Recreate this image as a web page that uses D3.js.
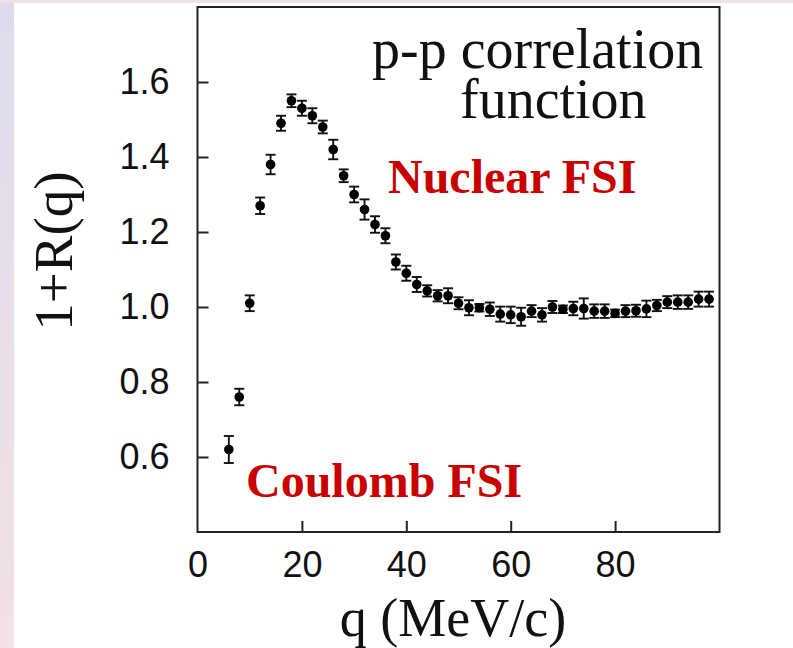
<!DOCTYPE html>
<html>
<head>
<meta charset="utf-8">
<title>p-p correlation function</title>
<script src="https://d3js.org/d3.v7.min.js"></script>
<style>
  * { margin: 0; padding: 0; }
  body { background: #fff; width: 793px; height: 648px; overflow: hidden; }
</style>
</head>
<body>
<div id="chart"></div>
<script>
// data
const qValues = [6, 8, 10, 12, 14, 16, 18, 20, 22, 24, 26, 28, 30, 32, 34, 36,
  38, 40, 42, 44, 46, 48, 50, 52, 54, 56, 58, 60, 62, 64, 66, 68,
  70, 72, 74, 76, 78, 80, 82, 84, 86, 88, 90, 92, 94, 96, 98];
const corrValues = [0.62, 0.76, 1.01, 1.27, 1.38, 1.49, 1.55, 1.53, 1.51, 1.48, 1.42, 1.35, 1.30, 1.26, 1.22, 1.19,
  1.12, 1.09, 1.06, 1.043, 1.03, 1.03, 1.01, 0.998, 0.998, 0.994, 0.981, 0.979, 0.974, 0.989, 0.979, 1.0,
  0.994, 0.996, 0.996, 0.989, 0.989, 0.983, 0.989, 0.99, 0.995, 1.004, 1.013, 1.013, 1.013, 1.021, 1.021];
const corrErrors = [0.036, 0.022, 0.021, 0.022, 0.026, 0.02, 0.017, 0.02, 0.02, 0.017, 0.026, 0.017, 0.021, 0.027, 0.022, 0.02,
  0.02, 0.02, 0.02, 0.015, 0.015, 0.02, 0.016, 0.02, 0.01, 0.018, 0.02, 0.022, 0.024, 0.016, 0.018, 0.016,
  0.01, 0.018, 0.027, 0.018, 0.018, 0.01, 0.016, 0.016, 0.022, 0.015, 0.016, 0.018, 0.018, 0.02, 0.02];
const xTicks = [0, 20, 40, 60, 80];
const yTicks = [0.6, 0.8, 1.0, 1.2, 1.4, 1.6];

const W = 793, H = 648;
const sans = "'Liberation Sans', Arial, Helvetica, sans-serif";
const serif = "'Liberation Serif', 'Times New Roman', Times, serif";

const svg = d3.select("#chart").append("svg")
  .attr("width", W).attr("height", H);

// soft slide border on the left and top
const grad = svg.append("defs").append("linearGradient")
  .attr("id", "edge").attr("x1", 0).attr("y1", 0).attr("x2", 0).attr("y2", 1);
grad.append("stop").attr("offset", "0%").attr("stop-color", "#dedced");
grad.append("stop").attr("offset", "100%").attr("stop-color", "#f3e2e5");
svg.append("rect").attr("x", 0).attr("y", 0).attr("width", 14).attr("height", H).attr("fill", "url(#edge)");
svg.append("rect").attr("x", 0).attr("y", 0).attr("width", W).attr("height", 3).attr("fill", "#ece2ea");

const x = d3.scaleLinear().domain([0, 100]).range([197.5, 719.5]);
const y = d3.scaleLinear().domain([0.4, 1.8]).range([532, 7]);

// frame
svg.append("rect")
  .attr("x", x(0)).attr("y", y(1.8))
  .attr("width", x(100) - x(0)).attr("height", y(0.4) - y(1.8))
  .attr("fill", "none").attr("stroke", "#222").attr("stroke-width", 2);

// axes, ticks pointing in
const yAxis = svg.append("g")
  .attr("transform", `translate(${x(0)},0)`)
  .call(d3.axisLeft(y).tickValues(yTicks).tickFormat(d3.format(".1f"))
    .tickSizeInner(-11).tickSizeOuter(0).tickPadding(28));
const xAxis = svg.append("g")
  .attr("transform", `translate(0,${y(0.4)})`)
  .call(d3.axisBottom(x).tickValues(xTicks).tickFormat(d3.format("d"))
    .tickSizeInner(-11).tickSizeOuter(0).tickPadding(19));

[xAxis, yAxis].forEach(g => {
  g.select(".domain").remove();
  g.selectAll(".tick line").attr("stroke", "#222").attr("stroke-width", 2);
  g.selectAll(".tick text")
    .attr("fill", "#111")
    .style("font-family", sans)
    .style("font-size", "36px");
});
xAxis.selectAll(".tick line").filter(d => d === 0).remove();

// error bars
const pts = qValues.map((q, i) => ({ q, v: corrValues[i], e: corrErrors[i] }));
const capW = 5;
const bars = svg.append("g").attr("stroke", "#111").attr("stroke-width", 1.9);
bars.selectAll("line.stem").data(pts).join("line").attr("class", "stem")
  .attr("x1", d => x(d.q)).attr("x2", d => x(d.q))
  .attr("y1", d => y(d.v - d.e)).attr("y2", d => y(d.v + d.e));
bars.selectAll("line.top").data(pts).join("line").attr("class", "top")
  .attr("x1", d => x(d.q) - capW).attr("x2", d => x(d.q) + capW)
  .attr("y1", d => y(d.v + d.e)).attr("y2", d => y(d.v + d.e));
bars.selectAll("line.bot").data(pts).join("line").attr("class", "bot")
  .attr("x1", d => x(d.q) - capW).attr("x2", d => x(d.q) + capW)
  .attr("y1", d => y(d.v - d.e)).attr("y2", d => y(d.v - d.e));

// points
svg.append("g").selectAll("circle").data(pts).join("circle")
  .attr("cx", d => x(d.q)).attr("cy", d => y(d.v))
  .attr("r", 4.8).attr("fill", "#000");

// axis titles
svg.append("text")
  .attr("transform", "translate(72,251) rotate(-90)")
  .attr("text-anchor", "middle")
  .style("font-family", serif).style("font-size", "55px").attr("fill", "#111")
  .text("1+R(q)");
svg.append("text")
  .attr("x", 453).attr("y", 636)
  .attr("text-anchor", "middle")
  .style("font-family", serif).style("font-size", "54px").attr("fill", "#111")
  .text("q (MeV/c)");

// inset title, two lines in one text
const title = svg.append("text")
  .style("font-family", serif).style("font-size", "56px").attr("fill", "#111");
title.append("tspan").attr("x", 372).attr("y", 68).text("p-p correlation");
title.append("tspan").attr("x", 460).attr("y", 118).text("function");

// annotations
svg.append("text").attr("x", 388).attr("y", 193)
  .style("font-family", serif).style("font-size", "48px").style("font-weight", "bold")
  .attr("fill", "#c80000")
  .text("Nuclear FSI");
svg.append("text").attr("x", 246).attr("y", 497)
  .style("font-family", serif).style("font-size", "48px").style("font-weight", "bold")
  .attr("fill", "#c80000")
  .text("Coulomb FSI");
</script>
</body>
</html>
